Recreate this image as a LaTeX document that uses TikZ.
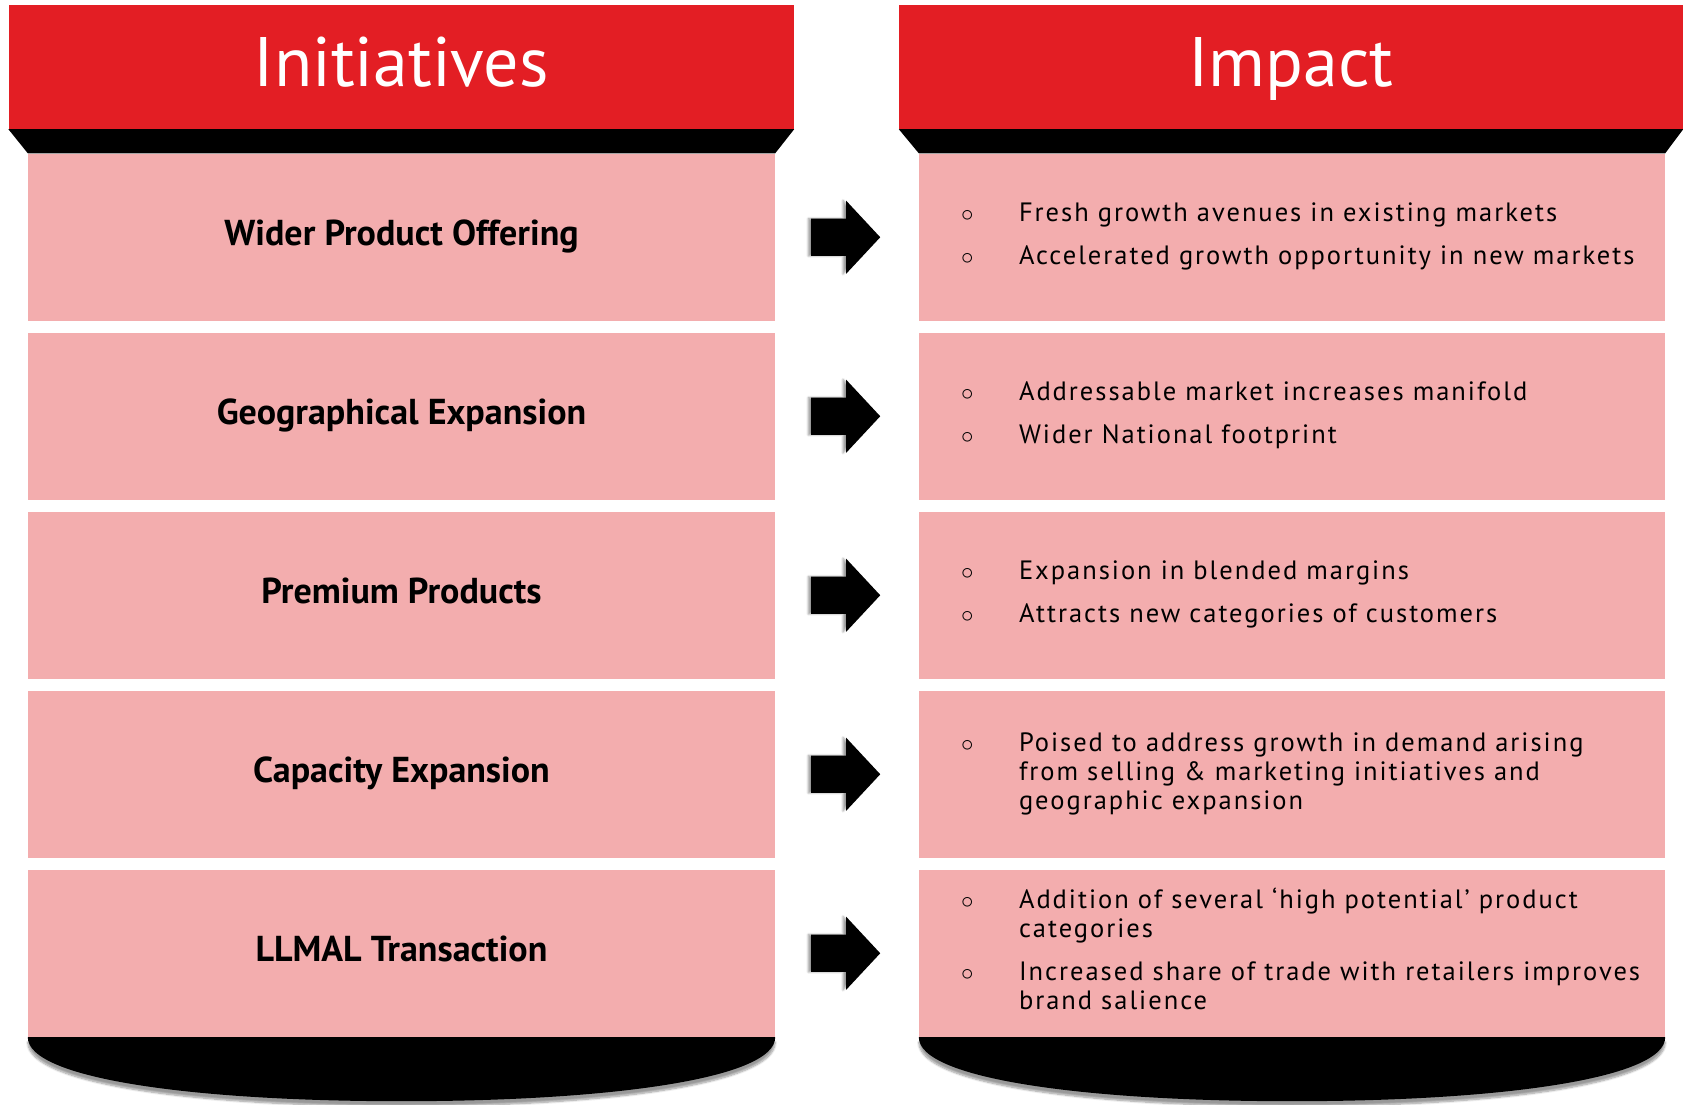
\documentclass[tikz,border=0pt]{standalone}
\usepackage{fontspec}
\setmainfont{PT Sans}
\newfontfamily\impfont[LetterSpace=7.5]{PT Sans}
\usetikzlibrary{calc,shapes.arrows,shadows.blur}

\definecolor{hdrred}{RGB}{227,30,36}
\definecolor{rowpink}{RGB}{243,173,174}

\begin{document}
\begin{tikzpicture}[x=1pt,y=-1pt,
	header/.style={fill=hdrred, text=white, inner sep=0pt, minimum height=123.6pt,
		text height=50pt, text depth=12pt, font=\fontsize{70}{80}\selectfont},
	rowbox/.style={fill=rowpink, inner sep=0pt, minimum width=747pt, minimum height=167.5pt},
	initlabel/.style={text height=25pt, text depth=9pt, font=\fontsize{36}{42}\selectfont\bfseries},
	imptext/.style={anchor=west, inner sep=0pt, font=\impfont\fontsize{26.5}{29}\selectfont},
	bigarrow/.style={single arrow, fill=black, inner sep=0pt, text width=0pt, text height=18.5pt, text depth=18.5pt,
		minimum height=69pt, single arrow head extend=18pt, single arrow tip angle=94,
		blur shadow={shadow xshift=-3pt, shadow yshift=0pt, shadow blur steps=6}},
	bottomshade/.style={fill=black, blur shadow={shadow xshift=0pt, shadow yshift=-5pt, shadow blur steps=8}}
]
	\useasboundingbox (0,0) rectangle (1683,1104);

	% Headers
	\node[header, minimum width=785.4pt] (hdrL) at (401.3,67.2) {Initiatives};
	\node[header, minimum width=784pt] (hdrR) at (1291,67.2) {Impact};

	% Rows
	\foreach \i/\lbl in {1/Wider Product Offering, 2/Geographical Expansion, 3/Premium Products, 4/Capacity Expansion, 5/LLMAL Transaction} {
		\node[rowbox, initlabel] (init\i) at (401.5, {237.25+179*(\i-1)}) {\lbl};
		\node[rowbox, minimum width=746pt] (imp\i) at (1292, {237.25+179*(\i-1)}) {};
		\node[bigarrow] (arr\i) at ($(init\i.east)!0.5!(imp\i.west)+(-10,0)$) {};
	}

	% Trapezoids under headers
	\fill (hdrL.south west) -- (hdrL.south east) -- (init1.north east) -- (init1.north west) -- cycle;
	\fill (hdrR.south west) -- (hdrR.south east) -- (imp1.north east) -- (imp1.north west) -- cycle;

	% Half ellipses at the bottom
	\path[bottomshade] (init5.south west) .. controls +(0,42) and +(-205,0) .. ($(init5.south)+(0,64)$)
		.. controls +(205,0) and +(0,42) .. (init5.south east) -- cycle;
	\path[bottomshade] (imp5.south west) .. controls +(0,42) and +(-205,0) .. ($(imp5.south)+(0,64)$)
		.. controls +(205,0) and +(0,42) .. (imp5.south east) -- cycle;

	% Impact texts
	\node[imptext] (impt1) at ([xshift=42pt]imp1.west) {\begin{tabular}{@{}p{58pt}@{}p{660pt}@{}}
		$\circ$ & Fresh growth avenues in existing markets \\[14pt]
		$\circ$ & Accelerated growth opportunity in new markets
	\end{tabular}};
	\node[imptext] (impt2) at ([xshift=42pt]imp2.west) {\begin{tabular}{@{}p{58pt}@{}p{660pt}@{}}
		$\circ$ & Addressable market increases manifold \\[14pt]
		$\circ$ & Wider National footprint
	\end{tabular}};
	\node[imptext] (impt3) at ([xshift=42pt]imp3.west) {\begin{tabular}{@{}p{58pt}@{}p{660pt}@{}}
		$\circ$ & Expansion in blended margins \\[14pt]
		$\circ$ & Attracts new categories of customers
	\end{tabular}};
	\node[imptext] (impt4) at ([xshift=42pt]imp4.west) {\begin{tabular}{@{}p{58pt}@{}p{660pt}@{}}
		$\circ$ & Poised to address growth in demand arising\newline
		from selling \& marketing initiatives and\newline
		geographic expansion
	\end{tabular}};
	\node[imptext] (impt5) at ([xshift=42pt]imp5.west) {\begin{tabular}{@{}p{58pt}@{}p{660pt}@{}}
		$\circ$ & Addition of several ‘high potential’ product\newline
		categories \\[14pt]
		$\circ$ & Increased share of trade with retailers improves\newline
		brand salience
	\end{tabular}};
\end{tikzpicture}
\end{document}
